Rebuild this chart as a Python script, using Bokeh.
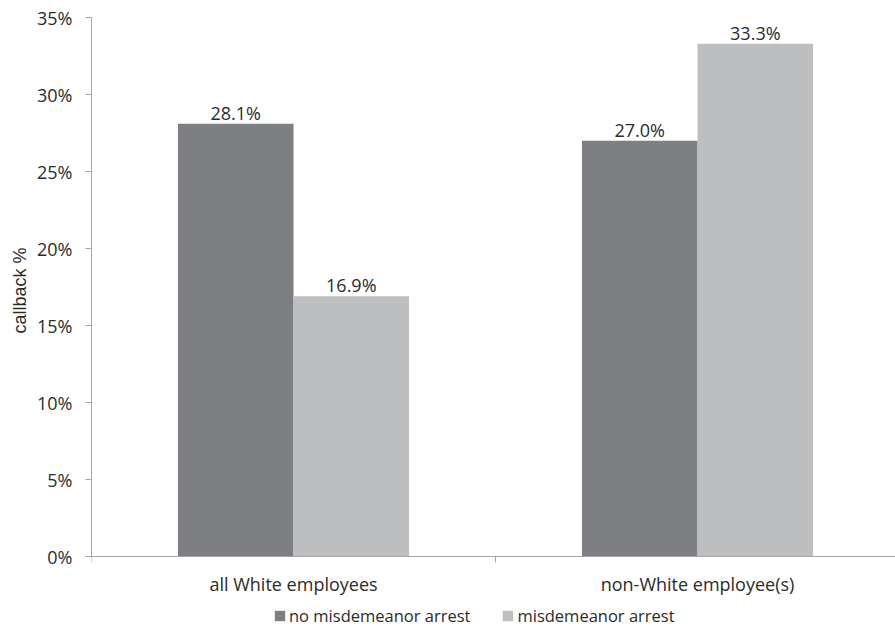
from bokeh.plotting import figure
from bokeh.models import (Range1d, FixedTicker, PrintfTickFormatter, Legend, LegendItem,
                          ColumnDataSource, Title)
from bokeh.core.properties import value
from bokeh.embed import file_html
from bokeh.resources import INLINE

categories = ["all White employees", "non-White employee(s)"]
series_names = ["no misdemeanor arrest", "misdemeanor arrest"]
no_arrest = [28.1, 27.0]
arrest = [16.9, 33.3]
y_ticks = [0, 5, 10, 15, 20, 25, 30, 35]

colors = ["#7e7f83", "#bdbec0"]
FONT = "Open Sans"
TXT = "#2b2b2b"

# layout: value axis 0..35 spans 539 px; 71 px of space below it hold the
# category labels and the legend inside the frame
Y_MAX = 35
Y_MIN = -Y_MAX * 71 / 539

p = figure(frame_width=804, frame_height=610,
           output_backend="svg", toolbar_location=None,
           x_range=Range1d(0, 1.99), y_range=Range1d(Y_MIN, Y_MAX),
           min_border_left=91, min_border_right=0, min_border_top=17, min_border_bottom=0)
p.outline_line_color = None
p.xgrid.visible = False
p.ygrid.visible = False

bar_w = 0.286
centers = [i + 0.5 for i in range(len(categories))]
series = [no_arrest, arrest]
offsets = [-bar_w / 2, bar_w / 2]
renderers = []
for vals, off, col in zip(series, offsets, colors):
    src = ColumnDataSource(dict(x=[c + off for c in centers], top=vals,
                                label=[f"{v:.1f}%" for v in vals]))
    r = p.vbar(x="x", top="top", bottom=0, width=bar_w, source=src,
               fill_color=col, line_color=None)
    renderers.append(r)
    p.text(x="x", y="top", text="label", source=src, text_align="center",
           text_baseline="alphabetic", y_offset=-11, text_font=value(FONT),
           text_font_size="18px", text_color=TXT)

# x axis (drawn at the 0% line)
xa = p.xaxis[0]
xa.fixed_location = 0
xa.ticker = FixedTicker(ticks=centers, minor_ticks=[0, 1])
xa.major_label_overrides = {c: name for c, name in zip(centers, categories)}
xa.major_tick_line_color = None
xa.major_tick_out = 6
xa.minor_tick_out = 6
xa.minor_tick_in = 0
xa.minor_tick_line_color = "#a6a6a6"
xa.axis_line_color = "#a6a6a6"
xa.major_label_text_font = FONT
xa.major_label_text_font_size = "18px"
xa.major_label_text_color = TXT
xa.major_label_standoff = 9

ya = p.yaxis[0]
ya.bounds = (0, Y_MAX)
ya.ticker = FixedTicker(ticks=y_ticks, minor_ticks=[])
ya.formatter = PrintfTickFormatter(format="%d%%")
ya.major_tick_out = 6
ya.major_tick_in = 0
ya.major_tick_line_color = "#a6a6a6"
ya.axis_line_color = "#a6a6a6"
ya.major_label_text_font = FONT
ya.major_label_text_font_size = "18px"
ya.major_label_text_color = TXT
ya.major_label_standoff = 13

# value-axis title, centred on the 0..35% span
ytitle = Title(text="callback %", align="left", offset=294,
               text_font="Liberation Sans", text_font_size="18px",
               text_font_style="normal", text_color=TXT)
p.add_layout(ytitle, "left")

legend = Legend(items=[LegendItem(label=n, renderers=[r]) for n, r in zip(series_names, renderers)],
                orientation="horizontal", location=(182, 0),
                label_text_font=FONT, label_text_font_size="16.5px", label_text_color=TXT,
                glyph_width=13, glyph_height=13, spacing=31, label_standoff=3,
                label_height=16, border_line_color=None, background_fill_alpha=0,
                padding=0, margin=0)
p.add_layout(legend, "center")

open("out.html", "w").write(file_html(p, INLINE))
